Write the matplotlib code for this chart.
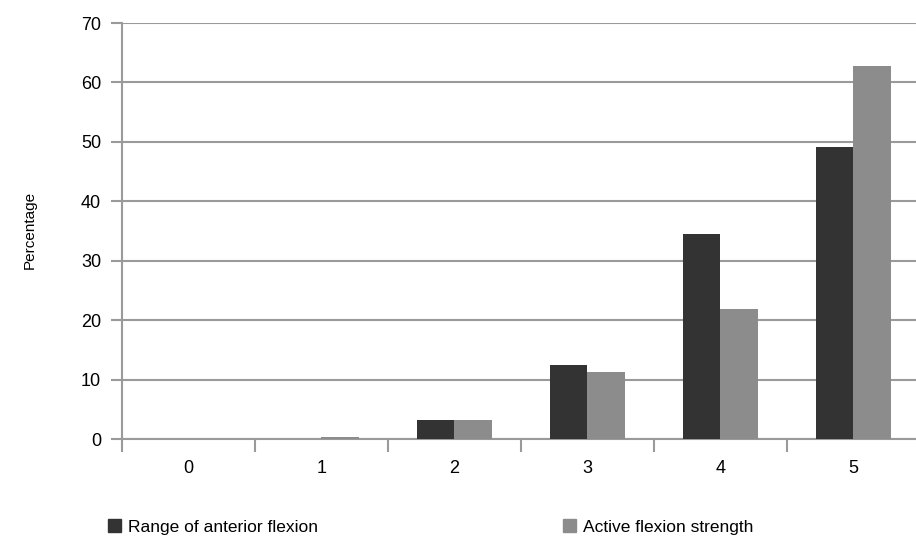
import numpy as np
import matplotlib.pyplot as plt
from matplotlib.patches import Patch

plt.rcParams['font.family'] = ['Liberation Sans Narrow', 'Liberation Sans', 'DejaVu Sans']

# data
grades = ['0', '1', '2', '3', '4', '5']
range_flexion = [0, 0, 3.2, 12.5, 34.5, 49.2]
active_strength = [0, 0.4, 3.2, 11.2, 21.8, 62.7]
series_names = ['Range of anterior flexion', 'Active flexion strength']

dark = '#333333'
light = '#8c8c8c'
grid_col = '#9a9a9a'

fig = plt.figure(figsize=(9.16, 5.39), dpi=100)
ax = fig.add_axes([122 / 916, 100 / 539, 1 - 122 / 916, 416 / 539])

x = np.arange(len(grades))
w = 0.28
ax.bar(x - w / 2, range_flexion, w, color=dark, zorder=3)
ax.bar(x + w / 2, active_strength, w, color=light, zorder=3)

ax.set_xlim(-0.5, 5.47)
ax.set_ylim(0, 70)
ax.set_yticks(range(0, 80, 10))
ax.yaxis.grid(True, color=grid_col, linewidth=1.5, zorder=0)
ax.tick_params(axis='y', length=8, width=1.5, color=grid_col, labelsize=13, pad=7)

# group labels at centres, tick marks at the boundaries
ax.set_xticks(x)
ax.set_xticklabels(grades)
ax.set_xticks(np.arange(-0.5, 5.5, 1), minor=True)
ax.tick_params(axis='x', which='major', length=0, labelsize=13, pad=15)
ax.tick_params(axis='x', which='minor', length=9, width=1.5, color=grid_col)

for s in ['top', 'right']:
    ax.spines[s].set_visible(False)
for s in ['left', 'bottom']:
    ax.spines[s].set_color(grid_col)
    ax.spines[s].set_linewidth(1.5)

fig.text(30 / 916, 1 - 230 / 539, 'Percentage', rotation=90, ha='center', va='center', fontsize=11)

handles = [Patch(color=dark), Patch(color=light)]
fig.legend(handles, series_names, loc='center left', bbox_to_anchor=(92 / 916, 1 - 527 / 539),
           ncol=2, frameon=False, fontsize=12.5, handlelength=0.75, handleheight=0.75,
           handletextpad=0.4, columnspacing=14.15)

fig.savefig('out.png', dpi=100, facecolor='white')
